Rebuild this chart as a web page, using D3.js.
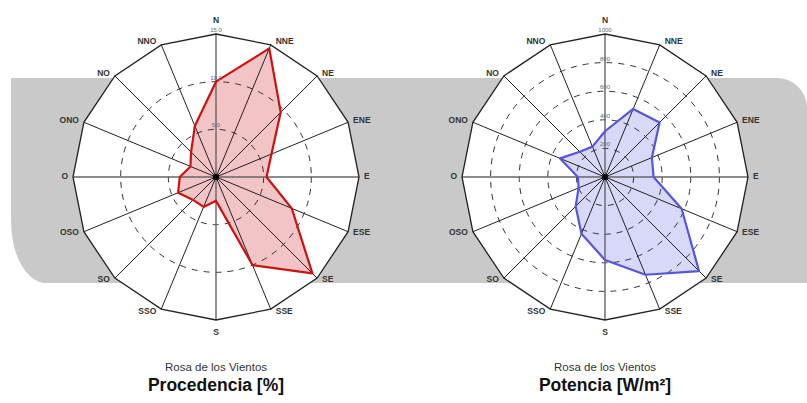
<!DOCTYPE html>
<html>
<head>
<meta charset="utf-8">
<script src="https://cdn.jsdelivr.net/npm/d3@7"></script>
<style>
    body { margin: 0; background: #ffffff; }
    svg { display: block; font-family: "Liberation Sans", Arial, sans-serif; }
</style>
</head>
<body>
<div class="chartContainer"></div>
<script>
// 风向（西班牙语）
const directions = ['N', 'NNE', 'NE', 'ENE', 'E', 'ESE', 'SE', 'SSE',
    'S', 'SSO', 'SO', 'OSO', 'O', 'ONO', 'NO', 'NNO'];

// 频率 [%]
const procedenciaValues = [10, 14.6, 9.6, 6.3, 5.3, 8.6, 14.3, 10,
    2.5, 3.4, 3.4, 4.3, 3.8, 2.9, 3.7, 5.8];
const procedenciaTicks = [5, 10, 15];
const procedenciaTickLabels = ['5.0', '10.0', '15.0'];

// 功率 [W/m²]
const potenciaValues = [320, 515, 540, 355, 340, 580, 930, 740,
    580, 430, 290, 200, 190, 340, 250, 230];
const potenciaTicks = [200, 400, 600, 800, 1000];
const potenciaTickLabels = ['200', '400', '600', '800', '1000'];

const width = 807, height = 403;
const radius = 143;

const svg = d3.select('.chartContainer')
    .append('svg')
    .attr('width', width)
    .attr('height', height);

// 灰色背景条
svg.append('path')
    .attr('d', 'M 11 78 H 777 A 30 30 0 0 1 807 108 V 283 H 46 A 35 62 0 0 1 11 221 Z')
    .attr('fill', '#c9c9c9');

/**
 * 绘制一个风玫瑰图
 */
const drawRose = (cx, cy, values, maxValue, ticks, tickLabels, colors, title1, title2) => {
    const g = svg.append('g').attr('transform', `translate(${cx},${cy})`);

    const r = d3.scaleLinear().domain([0, maxValue]).range([0, radius]);
    const angle = d3.scaleLinear().domain([0, directions.length]).range([0, 2 * Math.PI]);

    const pt = (i, rr) => [Math.sin(angle(i)) * rr, -Math.cos(angle(i)) * rr];

    // 外框十六边形
    const outline = d3.lineRadial()
        .angle((d, i) => angle(i))
        .radius(() => radius)
        .curve(d3.curveLinearClosed);
    g.append('path')
        .attr('d', outline(directions))
        .attr('fill', '#ffffff')
        .attr('stroke', 'none');

    // 数据多边形填充
    const area = d3.lineRadial()
        .angle((d, i) => angle(i))
        .radius(d => r(d))
        .curve(d3.curveLinearClosed);
    g.append('path')
        .attr('d', area(values))
        .attr('fill', colors.fill)
        .attr('stroke', 'none');

    // 虚线同心圆
    g.selectAll('circle.tick')
        .data(ticks.filter(t => t < maxValue))
        .enter()
        .append('circle')
        .attr('class', 'tick')
        .attr('r', d => r(d))
        .attr('fill', 'none')
        .attr('stroke', '#333333')
        .attr('stroke-width', 1)
        .attr('stroke-dasharray', '6,6');

    // 辐射线
    g.selectAll('line.spoke')
        .data(directions)
        .enter()
        .append('line')
        .attr('class', 'spoke')
        .attr('x1', 0).attr('y1', 0)
        .attr('x2', (d, i) => pt(i, radius)[0])
        .attr('y2', (d, i) => pt(i, radius)[1])
        .attr('stroke', (d, i) => i % 4 === 0 ? '#666666' : '#222222')
        .attr('stroke-width', (d, i) => i % 4 === 0 ? 1.4 : 1);

    g.append('path')
        .attr('d', outline(directions))
        .attr('fill', 'none')
        .attr('stroke', '#222222')
        .attr('stroke-width', 1.3);

    // 数据多边形边线
    g.append('path')
        .attr('d', area(values))
        .attr('fill', 'none')
        .attr('stroke', colors.stroke)
        .attr('stroke-width', 2.2)
        .attr('stroke-linejoin', 'round');

    g.append('circle').attr('r', 3).attr('fill', '#000000');

    // 刻度标签
    g.selectAll('text.tickLabel')
        .data(ticks)
        .enter()
        .append('text')
        .attr('class', 'tickLabel')
        .attr('x', 0)
        .attr('y', d => -r(d) - 2)
        .attr('text-anchor', 'middle')
        .attr('font-size', 6)
        .attr('fill', '#666666')
        .text((d, i) => tickLabels[i]);

    // 方向标签
    g.selectAll('text.dir')
        .data(directions)
        .enter()
        .append('text')
        .attr('class', 'dir')
        .attr('x', (d, i) => {
            const [x] = pt(i, radius);
            const s = Math.sin(angle(i));
            return Math.abs(s) < 0.1 ? x : x + (s > 0 ? 5 : -5);
        })
        .attr('y', (d, i) => {
            const [, y] = pt(i, radius);
            const c = Math.cos(angle(i));
            if (Math.abs(Math.sin(angle(i))) < 0.1) return y + (c > 0 ? -13 : 13);
            return y - 3 * c;
        })
        .attr('text-anchor', (d, i) => {
            const s = Math.sin(angle(i));
            return Math.abs(s) < 0.1 ? 'middle' : (s > 0 ? 'start' : 'end');
        })
        .attr('dominant-baseline', 'middle')
        .attr('font-size', 8.5)
        .attr('font-weight', 'bold')
        .attr('fill', '#333333')
        .text(d => d);

    // 标题
    svg.append('text')
        .attr('x', cx)
        .attr('y', 371)
        .attr('text-anchor', 'middle')
        .attr('font-size', 11.5)
        .attr('fill', '#333333')
        .text(title1);
    svg.append('text')
        .attr('x', cx)
        .attr('y', 391)
        .attr('text-anchor', 'middle')
        .attr('font-size', 17.5)
        .attr('font-weight', 'bold')
        .attr('fill', '#111111')
        .text(title2);
};

drawRose(216, 177, procedenciaValues, 15, procedenciaTicks, procedenciaTickLabels,
    {fill: '#f2c4c6', stroke: '#cc1111'}, 'Rosa de los Vientos', 'Procedencia [%]');
drawRose(605, 177, potenciaValues, 1000, potenciaTicks, potenciaTickLabels,
    {fill: '#d8d8f8', stroke: '#5555dd'}, 'Rosa de los Vientos', 'Potencia [W/m²]');
</script>
</body>
</html>
